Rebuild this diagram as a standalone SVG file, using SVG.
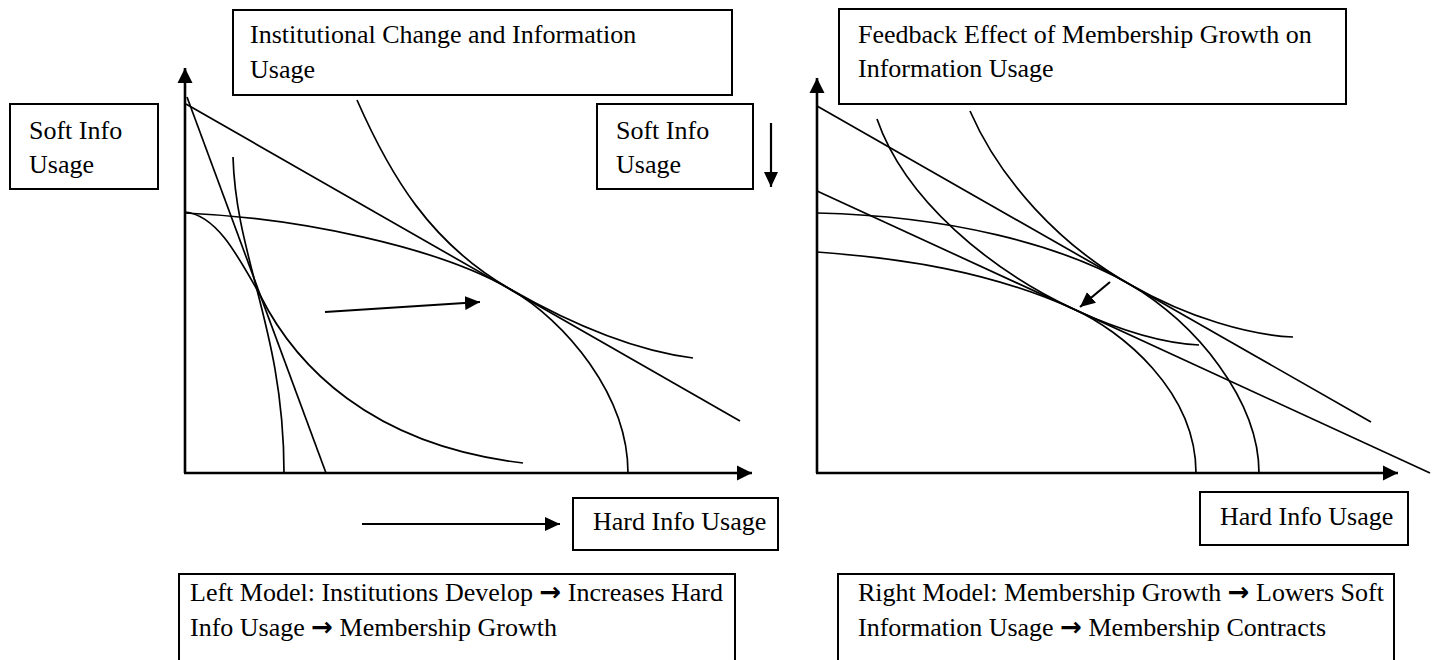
<svg xmlns="http://www.w3.org/2000/svg" width="1434" height="660" viewBox="0 0 1434 660">
<defs>
<style>
.box{fill:#fff;stroke:#000;stroke-width:2}
.t{font-family:"Liberation Serif","Times New Roman",serif;font-size:26px;fill:#000}
.ar{font-family:"DejaVu Sans",sans-serif;font-weight:bold}
.c{fill:none;stroke:#000;stroke-width:1.7}
.ax{fill:none;stroke:#000;stroke-width:2.6}
.arw{fill:none;stroke:#000;stroke-width:2.2}
</style>
<marker id="ah" markerUnits="userSpaceOnUse" markerWidth="16" markerHeight="16" refX="15" refY="8" orient="auto" viewBox="0 0 16 16">
<path d="M0,0.5 L15,8 L0,15.5 z" fill="#000"/>
</marker>
<marker id="ahs" markerUnits="userSpaceOnUse" markerWidth="16" markerHeight="16" refX="15" refY="8" orient="auto" viewBox="0 0 16 16">
<path d="M0,1 L15,8 L0,15 z" fill="#000"/>
</marker>
</defs>
<rect width="1434" height="660" fill="#fff"/>

<g id="connectors">
<!-- left axes -->
<line class="ax" x1="185" y1="473" x2="185" y2="68" marker-end="url(#ah)"/>
<line class="ax" x1="184" y1="473" x2="752" y2="473" marker-end="url(#ah)"/>
<!-- left curves -->
<line class="c" x1="186" y1="104" x2="740" y2="421"/>
<line class="c" x1="187" y1="97" x2="326" y2="473"/>
<path class="c" d="M233,157 C236,260 284,330 284,473"/>
<path class="c" d="M185,212 C215,215 235,250 260,295 C295,365 370,445 523,463"/>
<path class="c" d="M185,213 C300,218 437,247 510,289 C565,320.5 628,395 628,473"/>
<path class="c" d="M357,100 C390,175 430,243 510,289 C565,320.5 630,350 693,358"/>
<!-- left arrows -->
<line class="arw" x1="325" y1="312" x2="480" y2="302" marker-end="url(#ahs)"/>
<line class="arw" x1="771" y1="123" x2="771" y2="187" marker-end="url(#ahs)"/>
<line class="arw" x1="362" y1="524" x2="560" y2="524" marker-end="url(#ahs)"/>
<!-- right axes -->
<line class="ax" x1="817" y1="473" x2="817" y2="78" marker-end="url(#ah)"/>
<line class="ax" x1="816" y1="473" x2="1398" y2="473" marker-end="url(#ah)"/>
<!-- right curves -->
<line class="c" x1="817" y1="106" x2="1371" y2="422"/>
<line class="c" x1="817" y1="191" x2="1430" y2="473"/>
<path class="c" d="M817,213 C950,216 1060,244.5 1130,284.4 C1195,322 1259,400 1259,473"/>
<path class="c" d="M817,252 C900,258 990,271 1075,309.7 C1120,330.4 1196,390 1196,473"/>
<path class="c" d="M970,111 C1000,180 1060,245 1130,284.4 C1190,318.6 1250,335 1293,337"/>
<path class="c" d="M877,119 C905,200 990,270 1075,309.7 C1120,330.4 1160,343 1199,345"/>
<line class="arw" x1="1110" y1="282" x2="1080" y2="307" marker-end="url(#ahs)"/>
</g>

<g id="soft-left">
<rect class="box" x="10" y="104" width="148" height="85"/>
<text class="t" x="29" y="139">Soft Info</text>
<text class="t" x="29" y="173">Usage</text>
</g>
<g id="title-left">
<rect class="box" x="233" y="10" width="499" height="85"/>
<text class="t" x="250" y="43">Institutional Change and Information</text>
<text class="t" x="250" y="78">Usage</text>
</g>
<g id="soft-mid">
<rect class="box" x="597" y="104" width="156" height="85"/>
<text class="t" x="616" y="139">Soft Info</text>
<text class="t" x="616" y="173">Usage</text>
</g>
<g id="hard-left">
<rect class="box" x="573" y="498" width="205" height="52"/>
<text class="t" x="593" y="530">Hard Info Usage</text>
</g>
<g id="title-right">
<rect class="box" x="839" y="9" width="507" height="95"/>
<text class="t" x="858" y="43">Feedback Effect of Membership Growth on</text>
<text class="t" x="858" y="77">Information Usage</text>
</g>
<g id="hard-right">
<rect class="box" x="1200" y="492" width="208" height="53"/>
<text class="t" x="1220" y="525">Hard Info Usage</text>
</g>
<g id="model-left">
<rect class="box" x="179" y="574" width="556" height="100"/>
<text class="t" x="190" y="601">Left Model: Institutions Develop <tspan class="ar">→</tspan> Increases Hard</text>
<text class="t" x="190" y="636">Info Usage <tspan class="ar">→</tspan> Membership Growth</text>
</g>
<g id="model-right">
<rect class="box" x="838" y="574" width="556" height="100"/>
<text class="t" x="858" y="601">Right Model: Membership Growth <tspan class="ar">→</tspan> Lowers Soft</text>
<text class="t" x="858" y="636">Information Usage <tspan class="ar">→</tspan> Membership Contracts</text>
</g>
</svg>
